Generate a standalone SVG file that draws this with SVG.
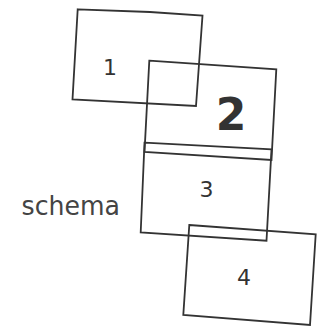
<svg xmlns="http://www.w3.org/2000/svg" width="332" height="331" viewBox="0 0 332 331">
<style>
.box{fill:none;stroke:#333333;stroke-width:1.8;stroke-linejoin:miter}
.num{font-family:"DejaVu Sans","Liberation Sans",sans-serif;fill:#333333;text-anchor:middle}
.lbl{font-family:"DejaVu Sans","Liberation Sans",sans-serif;fill:#444;font-size:27px}
</style>
<rect width="332" height="331" fill="#ffffff"/>
<g id="connectors"></g>
<g id="node1">
<polygon class="box" points="77.7,9.3 150,12 202.5,15.5 196,106 72.5,99.5"/>
<text class="num" x="110" y="75" font-size="22">1</text>
</g>
<g id="node2">
<polygon class="box" points="149.3,60.7 276.3,69.3 271.5,160 144.5,152"/>
<text class="num" x="231" y="130" font-size="44" font-weight="bold">2</text>
</g>
<g id="node3">
<polygon class="box" points="144.5,142.7 271.5,149.3 266.5,240.7 140.7,232.3"/>
<text class="num" x="206.5" y="196.7" font-size="22">3</text>
</g>
<g id="node4">
<polygon class="box" points="189.3,225 315.7,234.3 310,325 183.3,315"/>
<text class="num" x="244" y="285" font-size="22">4</text>
</g>
<g id="label">
<text class="lbl" x="21.5" y="215" textLength="98.5" lengthAdjust="spacingAndGlyphs">schema</text>
</g>
</svg>
